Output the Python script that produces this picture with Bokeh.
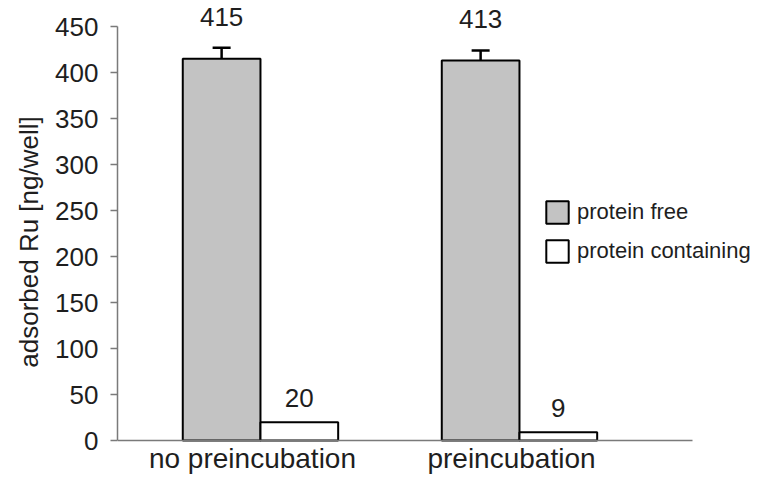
from bokeh.plotting import figure
from bokeh.models import ColumnDataSource, Whisker, FixedTicker, Legend, LegendItem, Range1d
from bokeh.core.properties import value
from bokeh.embed import file_html
from bokeh.resources import INLINE

categories = ["no preincubation", "preincubation"]
protein_free = [415, 413]
protein_free_err = [12, 11]
protein_containing = [20, 9]
series_names = ["protein free", "protein containing"]
y_ticks = [0, 50, 100, 150, 200, 250, 300, 350, 400, 450]

FONT = "Liberation Sans"
TXT = "#1e1e1e"
AX = "#7a7a7a"
pos = [i + 1 for i in range(len(categories))]
bw = 0.3

p = figure(width=757, height=483, output_backend="svg", toolbar_location=None,
           x_range=Range1d(0.448, 2.919), y_range=Range1d(-46.7, 478.3),
           min_border_left=117, min_border_right=0, min_border_top=0, min_border_bottom=0)
p.outline_line_color = None
p.xgrid.visible = False
p.ygrid.visible = False
p.background_fill_color = "white"

src_free = ColumnDataSource(dict(x=[c - bw / 2 for c in pos], top=protein_free,
                                 upper=[v + e for v, e in zip(protein_free, protein_free_err)],
                                 lower=[v - e for v, e in zip(protein_free, protein_free_err)],
                                 lab=[str(v) for v in protein_free]))
src_cont = ColumnDataSource(dict(x=[c + bw / 2 for c in pos], top=protein_containing,
                                 lab=[str(v) for v in protein_containing]))
src_cat = ColumnDataSource(dict(x=pos, y=[0] * len(pos), lab=categories))

r1 = p.vbar(x="x", top="top", width=bw, bottom=0, source=src_free,
            fill_color="#c3c3c3", line_color="black", line_width=2)
r2 = p.vbar(x="x", top="top", width=bw, bottom=0, source=src_cont,
            fill_color="white", line_color="black", line_width=2)

wh = Whisker(base="x", upper="upper", lower="lower", source=src_free,
             line_color="black", line_width=2.5)
wh.upper_head.size = 18
wh.lower_head.size = 18
wh.upper_head.line_width = 2.5
wh.lower_head.line_width = 2.5
p.add_layout(wh)

p.text(x="x", y="upper", text="lab", source=src_free, text_align="center",
       text_baseline="bottom", y_offset=-22, text_font=value(FONT),
       text_font_size="26px", text_color=TXT)
p.text(x="x", y="top", text="lab", source=src_cont, text_align="center",
       text_baseline="bottom", y_offset=-15, text_font=value(FONT),
       text_font_size="26px", text_color=TXT)
# category labels under the baseline
p.text(x="x", y="y", text="lab", source=src_cat, text_align="center",
       text_baseline="top", y_offset=2, x_offset=-8, text_font=value(FONT),
       text_font_size="28px", text_color=TXT)

# y axis
p.yaxis.ticker = FixedTicker(ticks=y_ticks)
p.yaxis.bounds = (y_ticks[0], y_ticks[-1])
p.yaxis.axis_label = "adsorbed Ru [ng/well]"
p.yaxis.axis_label_text_font = FONT
p.yaxis.axis_label_text_font_size = "26px"
p.yaxis.axis_label_text_font_style = "normal"
p.yaxis.axis_label_text_color = TXT
p.yaxis.axis_label_standoff = 8
p.yaxis.major_label_text_font = FONT
p.yaxis.major_label_text_font_size = "26px"
p.yaxis.major_label_text_color = TXT
p.yaxis.major_label_standoff = 12
p.yaxis.major_tick_in = 0
p.yaxis.major_tick_out = 7
p.yaxis.minor_tick_line_color = None
p.yaxis.axis_line_color = AX
p.yaxis.major_tick_line_color = AX
p.yaxis.axis_line_width = 1.5
p.yaxis.major_tick_line_width = 1.5

# x axis: baseline only, drawn at y = 0
p.xaxis.fixed_location = 0
p.xaxis.bounds = (0.448, 2.668)
p.xaxis.ticker = FixedTicker(ticks=[])
p.xaxis.major_label_standoff = 0
p.xaxis.major_tick_in = 0
p.xaxis.major_tick_out = 0
p.xaxis.minor_tick_line_color = None
p.xaxis.major_tick_line_color = None
p.xaxis.axis_line_color = AX
p.xaxis.axis_line_width = 1.5

legend = Legend(items=[LegendItem(label=series_names[0], renderers=[r1]),
                       LegendItem(label=series_names[1], renderers=[r2])],
                location=(426, 218), padding=0, margin=0, spacing=11,
                glyph_width=28, glyph_height=28, label_height=28, label_standoff=6,
                label_text_font=FONT, label_text_font_size="22px", label_text_color=TXT,
                border_line_color=None, background_fill_alpha=0)
p.add_layout(legend, "center")

open("out.html", "w").write(file_html(p, INLINE))
